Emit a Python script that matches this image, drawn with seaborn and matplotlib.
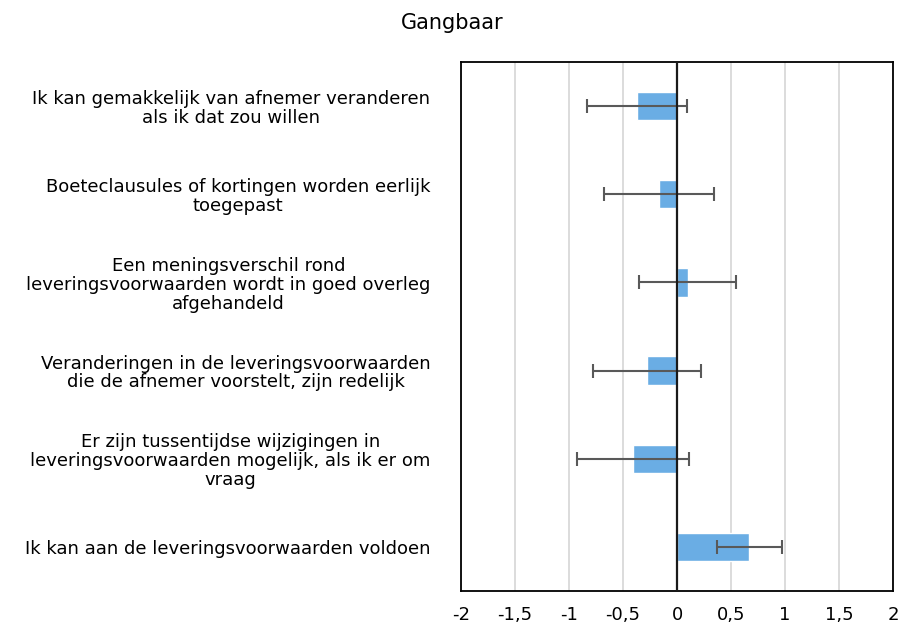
import matplotlib
matplotlib.use("Agg")
import matplotlib.pyplot as plt
import numpy as np
import pandas as pd
import seaborn as sns

# statements (top to bottom) with mean score and error margin
statements = [
    "Ik kan gemakkelijk van afnemer veranderen\nals ik dat zou willen",
    "Boeteclausules of kortingen worden eerlijk\ntoegepast",
    "Een meningsverschil rond\nleveringsvoorwaarden wordt in goed overleg\nafgehandeld",
    "Veranderingen in de leveringsvoorwaarden\ndie de afnemer voorstelt, zijn redelijk",
    "Er zijn tussentijdse wijzigingen in\nleveringsvoorwaarden mogelijk, als ik er om\nvraag",
    "Ik kan aan de leveringsvoorwaarden voldoen",
]
scores = [-0.37, -0.17, 0.10, -0.275, -0.405, 0.67]
errors = [0.46, 0.51, 0.45, 0.50, 0.52, 0.30]
xticks = [-2, -1.5, -1, -0.5, 0, 0.5, 1, 1.5, 2]
xticklabels = ["-2", "-1,5", "-1", "-0,5", "0", "0,5", "1", "1,5", "2"]

df = pd.DataFrame({"stelling": statements, "score": scores, "err": errors})

sns.set_style("white")
plt.rcParams["font.family"] = ["DejaVu Sans"]
plt.rcParams["text.color"] = "#000000"

fig = plt.figure(figsize=(9.01, 6.25), dpi=100)
ax = fig.add_axes([0.5117, 0.0549, 0.4794, 0.8454])

sns.barplot(data=df, x="score", y="stelling", orient="h", color="#6aade4",
            saturation=1, width=0.32, ax=ax, zorder=2)
ax.errorbar(df["score"], np.arange(len(df)), xerr=df["err"], fmt="none",
            ecolor="#595959", elinewidth=1.5, capsize=5, capthick=1.5, zorder=3)

ax.axvline(0, color="#1a1a1a", lw=1.6, zorder=4)
ax.set_xlim(-2, 2)
ax.set_ylim(len(df) - 0.5, -0.5)
ax.set_xticks(xticks)
ax.set_xticklabels(xticklabels)
ax.xaxis.grid(True, color="#d9d9d9", lw=1.3, zorder=0)
ax.set_axisbelow(True)
ax.set_xlabel("")
ax.set_ylabel("")
ax.tick_params(axis="x", length=0, pad=11, labelsize=13, colors="#000000")
ax.tick_params(axis="y", length=0, pad=22, labelsize=13, colors="#000000")
for t in ax.get_yticklabels():
    t.set_multialignment("center")
    t.set_linespacing(1.05)
for s in ax.spines.values():
    s.set_visible(True)
    s.set_color("#000000")
    s.set_linewidth(1.3)

fig.text(0.502, 0.963, "Gangbaar", ha="center", va="center", fontsize=15,
         color="#000000")

fig.savefig("out.png", dpi=100, facecolor="white")
